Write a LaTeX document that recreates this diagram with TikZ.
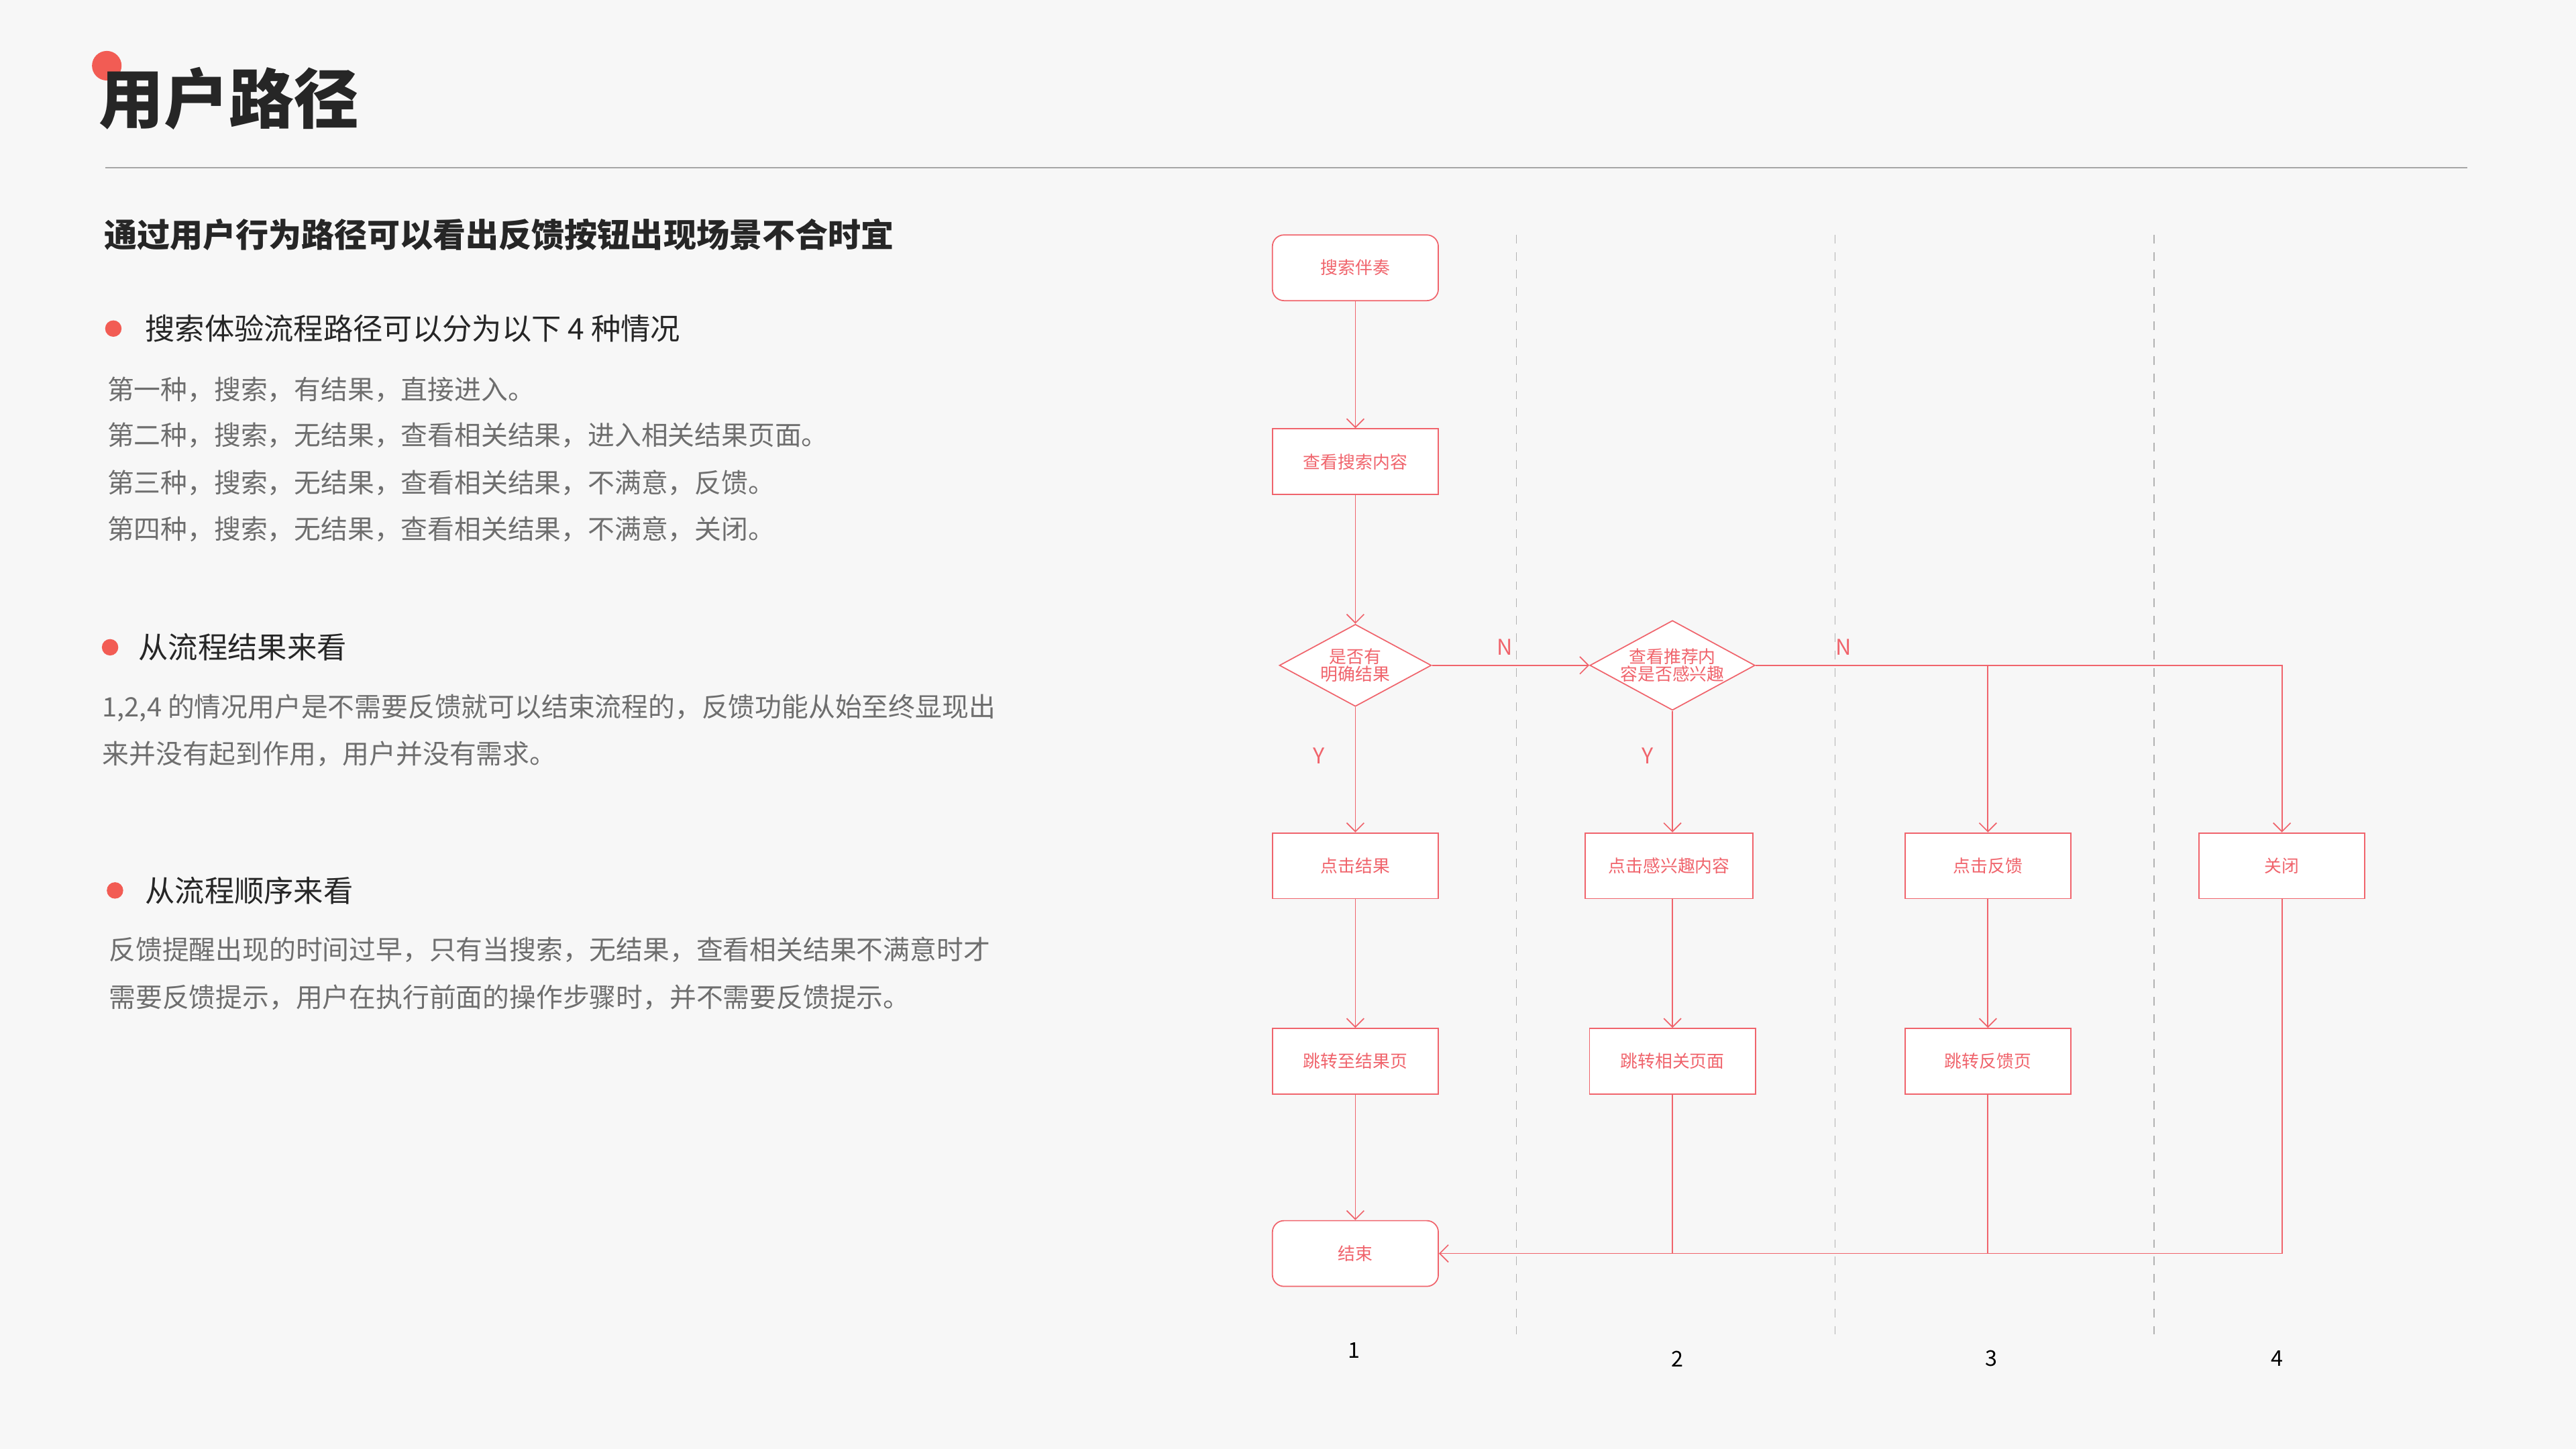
\documentclass[tikz,border=0pt]{standalone}
\usepackage{fontspec}
\setmainfont{Noto Sans CJK SC}
\usetikzlibrary{shapes.geometric,arrows.meta}
\definecolor{flowred}{HTML}{F0646C}
\definecolor{dotred}{HTML}{F25C54}
\definecolor{bgcol}{HTML}{F7F7F7}
\definecolor{txtgray}{HTML}{6E6E6E}

\begin{document}
\begin{tikzpicture}[
        x=0.02cm, y=-0.02cm,
        every node/.style={inner sep=0pt},
        proc/.style={rectangle, draw=flowred, fill=white, text=flowred, minimum width=2.02cm, minimum height=0.8cm, font=\fontsize{6}{7}\selectfont},
        term/.style={proc, rounded corners=4pt},
        decide/.style={diamond, draw=flowred, fill=white, text=flowred, minimum width=1.85cm, minimum height=1cm, aspect=1.84, align=center, font=\fontsize{6}{6}\selectfont},
        flow/.style={draw=flowred, -{Straight Barb[length=3pt,width=6pt]}},
        lane/.style={draw=gray!60, dashed, thin},
        lbl/.style={text=flowred, font=\fontsize{7.5}{8}\selectfont},
        para/.style={anchor=west, text=txtgray, font=\fontsize{9.25}{10}\selectfont},
        bullet/.style={anchor=west, text=black!85, font=\fontsize{10.3}{11}\selectfont}
        ]

        \fill[bgcol] (0,0) rectangle (1568,882);

        % heading
        \fill[dotred] (65,40) circle (9);
        \node[anchor=west, font=\fontsize{22.5}{24}\selectfont\bfseries, text=black!85] (title) at (60,60) {用户路径};
        \draw[gray!70] (64,102) -- (1502,102);
        \node[anchor=west, font=\fontsize{11.4}{12}\selectfont\bfseries, text=black!85] (lead) at (63,143) {通过用户行为路径可以看出反馈按钮出现场景不合时宜};

        % left text
        \fill[dotred] (69,200) circle (5);
        \node[bullet] (b1) at (88,200) {搜索体验流程路径可以分为以下 4 种情况};
        \node[para] (p1) at (65,237) {第一种，搜索，有结果，直接进入。};
        \node[para] (p2) at (65,265) {第二种，搜索，无结果，查看相关结果，进入相关结果页面。};
        \node[para] (p3) at (65,294) {第三种，搜索，无结果，查看相关结果，不满意，反馈。};
        \node[para] (p4) at (65,322) {第四种，搜索，无结果，查看相关结果，不满意，关闭。};

        \fill[dotred] (67,394) circle (5);
        \node[bullet] (b2) at (84,394) {从流程结果来看};
        \node[para] (p5) at (62,431) {1,2,4 的情况用户是不需要反馈就可以结束流程的，反馈功能从始至终显现出};
        \node[para] (p6) at (62,459) {来并没有起到作用，用户并没有需求。};

        \fill[dotred] (70,542) circle (5);
        \node[bullet] (b3) at (88,542) {从流程顺序来看};
        \node[para] (p7) at (66,578) {反馈提醒出现的时间过早，只有当搜索，无结果，查看相关结果不满意时才};
        \node[para] (p8) at (66,607) {需要反馈提示，用户在执行前面的操作步骤时，并不需要反馈提示。};

        % lanes
        \foreach \lx in {923,1117,1311}
            \draw[lane] (\lx,143) -- (\lx,812);

        % flow nodes
        \node[term] (start) at (825,163) {搜索伴奏};
        \node[proc] (view) at (825,281) {查看搜索内容};
        \node[decide] (d1) at (825,405) {是否有\\明确结果};
        \node[decide] (d2) at (1018,405) {查看推荐内\\容是否感兴趣};
        \node[proc] (click1) at (825,527) {点击结果};
        \node[proc, minimum width=2.04cm] (click2) at (1016,527) {点击感兴趣内容};
        \node[proc] (click3) at (1210,527) {点击反馈};
        \node[proc] (close) at (1389,527) {关闭};
        \node[proc] (jump1) at (825,646) {跳转至结果页};
        \node[proc] (jump2) at (1018,646) {跳转相关页面};
        \node[proc] (jump3) at (1210,646) {跳转反馈页};
        \node[term] (finish) at (825,763) {结束};
        \coordinate (fork3) at (1210,405);
        \coordinate (turn4) at (1389,405);
        \coordinate (base2) at (1018,763);
        \coordinate (base3) at (1210,763);
        \coordinate (base4) at (1389,763);

        % connectors
        \draw[flow] (start) -- (view);
        \draw[flow] (view) -- (d1);
        \draw[flow] (d1) -- (click1);
        \draw[flow] (d1) -- (d2);
        \draw[flow] (d2.south) -- (d2.south |- click2.north);
        \draw[flow] (d2) -- (turn4) -- (close);
        \draw[flow] (fork3) -- (click3);
        \draw[flow] (click1) -- (jump1);
        \draw[flow] (jump1) -- (finish);
        \draw[flow] (click2.south -| jump2) -- (jump2);
        \draw[flow] (click3) -- (jump3);
        \draw[draw=flowred] (jump2) -- (base2);
        \draw[draw=flowred] (jump3) -- (base3);
        \draw[flow] (close) -- (base4) -- (finish);

        % labels
        \node[lbl] (n1) at (916,394) {N};
        \node[lbl] (n2) at (1122,394) {N};
        \node[lbl] (y1) at (803,460) {Y};
        \node[lbl] (y2) at (1003,460) {Y};
        \node[font=\fontsize{7.5}{8}\selectfont] (c1) at (824,822) {1};
        \node[font=\fontsize{7.5}{8}\selectfont] (c2) at (1021,827) {2};
        \node[font=\fontsize{7.5}{8}\selectfont] (c3) at (1212,827) {3};
        \node[font=\fontsize{7.5}{8}\selectfont] (c4) at (1386,827) {4};
    \end{tikzpicture}
\end{document}
